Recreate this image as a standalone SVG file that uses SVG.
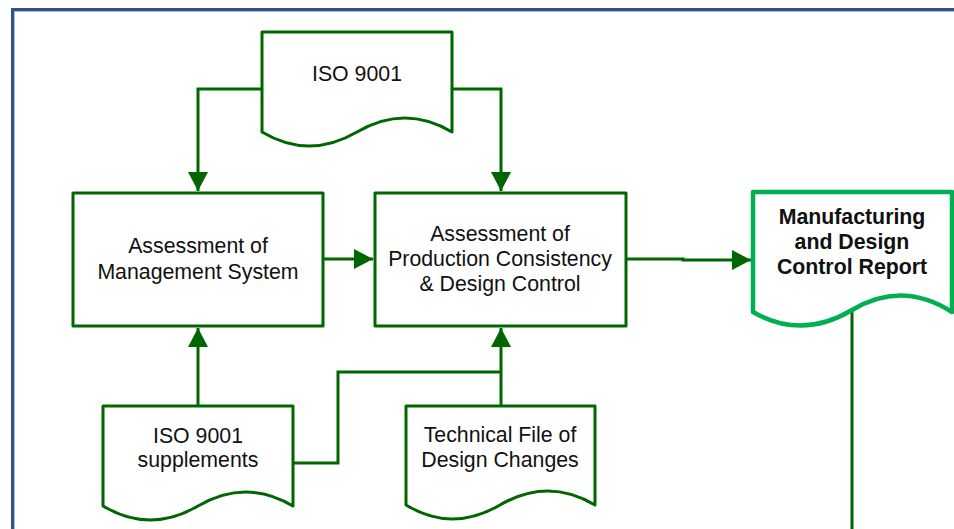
<svg xmlns="http://www.w3.org/2000/svg" width="954" height="529" viewBox="0 0 954 529">
<style>
.shape{fill:#ffffff;stroke:#006600;stroke-width:3;stroke-linejoin:round}
.report{fill:#ffffff;stroke:#00b050;stroke-width:4.5;stroke-linejoin:round}
.wire{fill:none;stroke:#006600;stroke-width:3}
.t{font-family:"Liberation Sans",Arial,sans-serif;font-size:21.3px;fill:#111111;text-anchor:middle}
.b{font-weight:bold;font-size:21.3px}
</style>
<defs>
<marker id="ah" markerUnits="userSpaceOnUse" markerWidth="20" markerHeight="20" viewBox="0 0 20 20" refX="19" refY="10" orient="auto">
<path d="M0,0 L19,10 L0,20 Z" fill="#006600"/>
</marker>
</defs>
<rect x="0" y="0" width="954" height="529" fill="#ffffff"/>
<g id="frame">
<rect x="12.5" y="9.5" width="1000" height="600" fill="none" stroke="#2c5494" stroke-width="3"/>
<rect x="14.5" y="11.5" width="1000" height="600" fill="none" stroke="#a9c0e2" stroke-width="1"/>
</g>
<g id="connectors">
<path class="wire" d="M262,89 H198 V191" marker-end="url(#ah)"/>
<path class="wire" d="M452,89 H501 V191" marker-end="url(#ah)"/>
<path class="wire" d="M323,259 H373" marker-end="url(#ah)"/>
<path class="wire" d="M626,259 H683 V260 H751" marker-end="url(#ah)"/>
<path class="wire" d="M198,406 V328" marker-end="url(#ah)"/>
<path class="wire" d="M501,406 V328" marker-end="url(#ah)"/>
<path class="wire" d="M293,463 H338 V372 H501"/>
<path class="wire" d="M852,311 V529"/>
</g>
<g id="iso9001">
<path class="shape" d="M262,32 H452 V132 Q405,104 357,132 T262,132 Z"/>
<text class="t" x="357" y="81">ISO 9001</text>
</g>
<g id="mgmt">
<rect class="shape" x="73" y="193" width="250" height="133"/>
<text class="t" x="198" y="253">Assessment of</text>
<text class="t" x="198" y="279">Management System</text>
</g>
<g id="prod">
<rect class="shape" x="375" y="193" width="251" height="133"/>
<text class="t" x="500" y="241">Assessment of</text>
<text class="t" x="500" y="266">Production Consistency</text>
<text class="t" x="500" y="291">&amp; Design Control</text>
</g>
<g id="report">
<path class="report" d="M753,192 H952 V312 Q902,280 852,310 T753,312 Z"/>
<text class="t b" x="852" y="224">Manufacturing</text>
<text class="t b" x="852" y="249">and Design</text>
<text class="t b" x="852" y="274">Control Report</text>
</g>
<g id="supplements">
<path class="shape" d="M103,406 H293 V506 Q246,478 198,506 T103,506 Z"/>
<text class="t" x="198" y="443">ISO 9001</text>
<text class="t" x="198" y="467">supplements</text>
</g>
<g id="techfile">
<path class="shape" d="M406,406 H595 V505 Q548,477 500,505 T406,505 Z"/>
<text class="t" x="500" y="442">Technical File of</text>
<text class="t" x="500" y="467">Design Changes</text>
</g>
</svg>
